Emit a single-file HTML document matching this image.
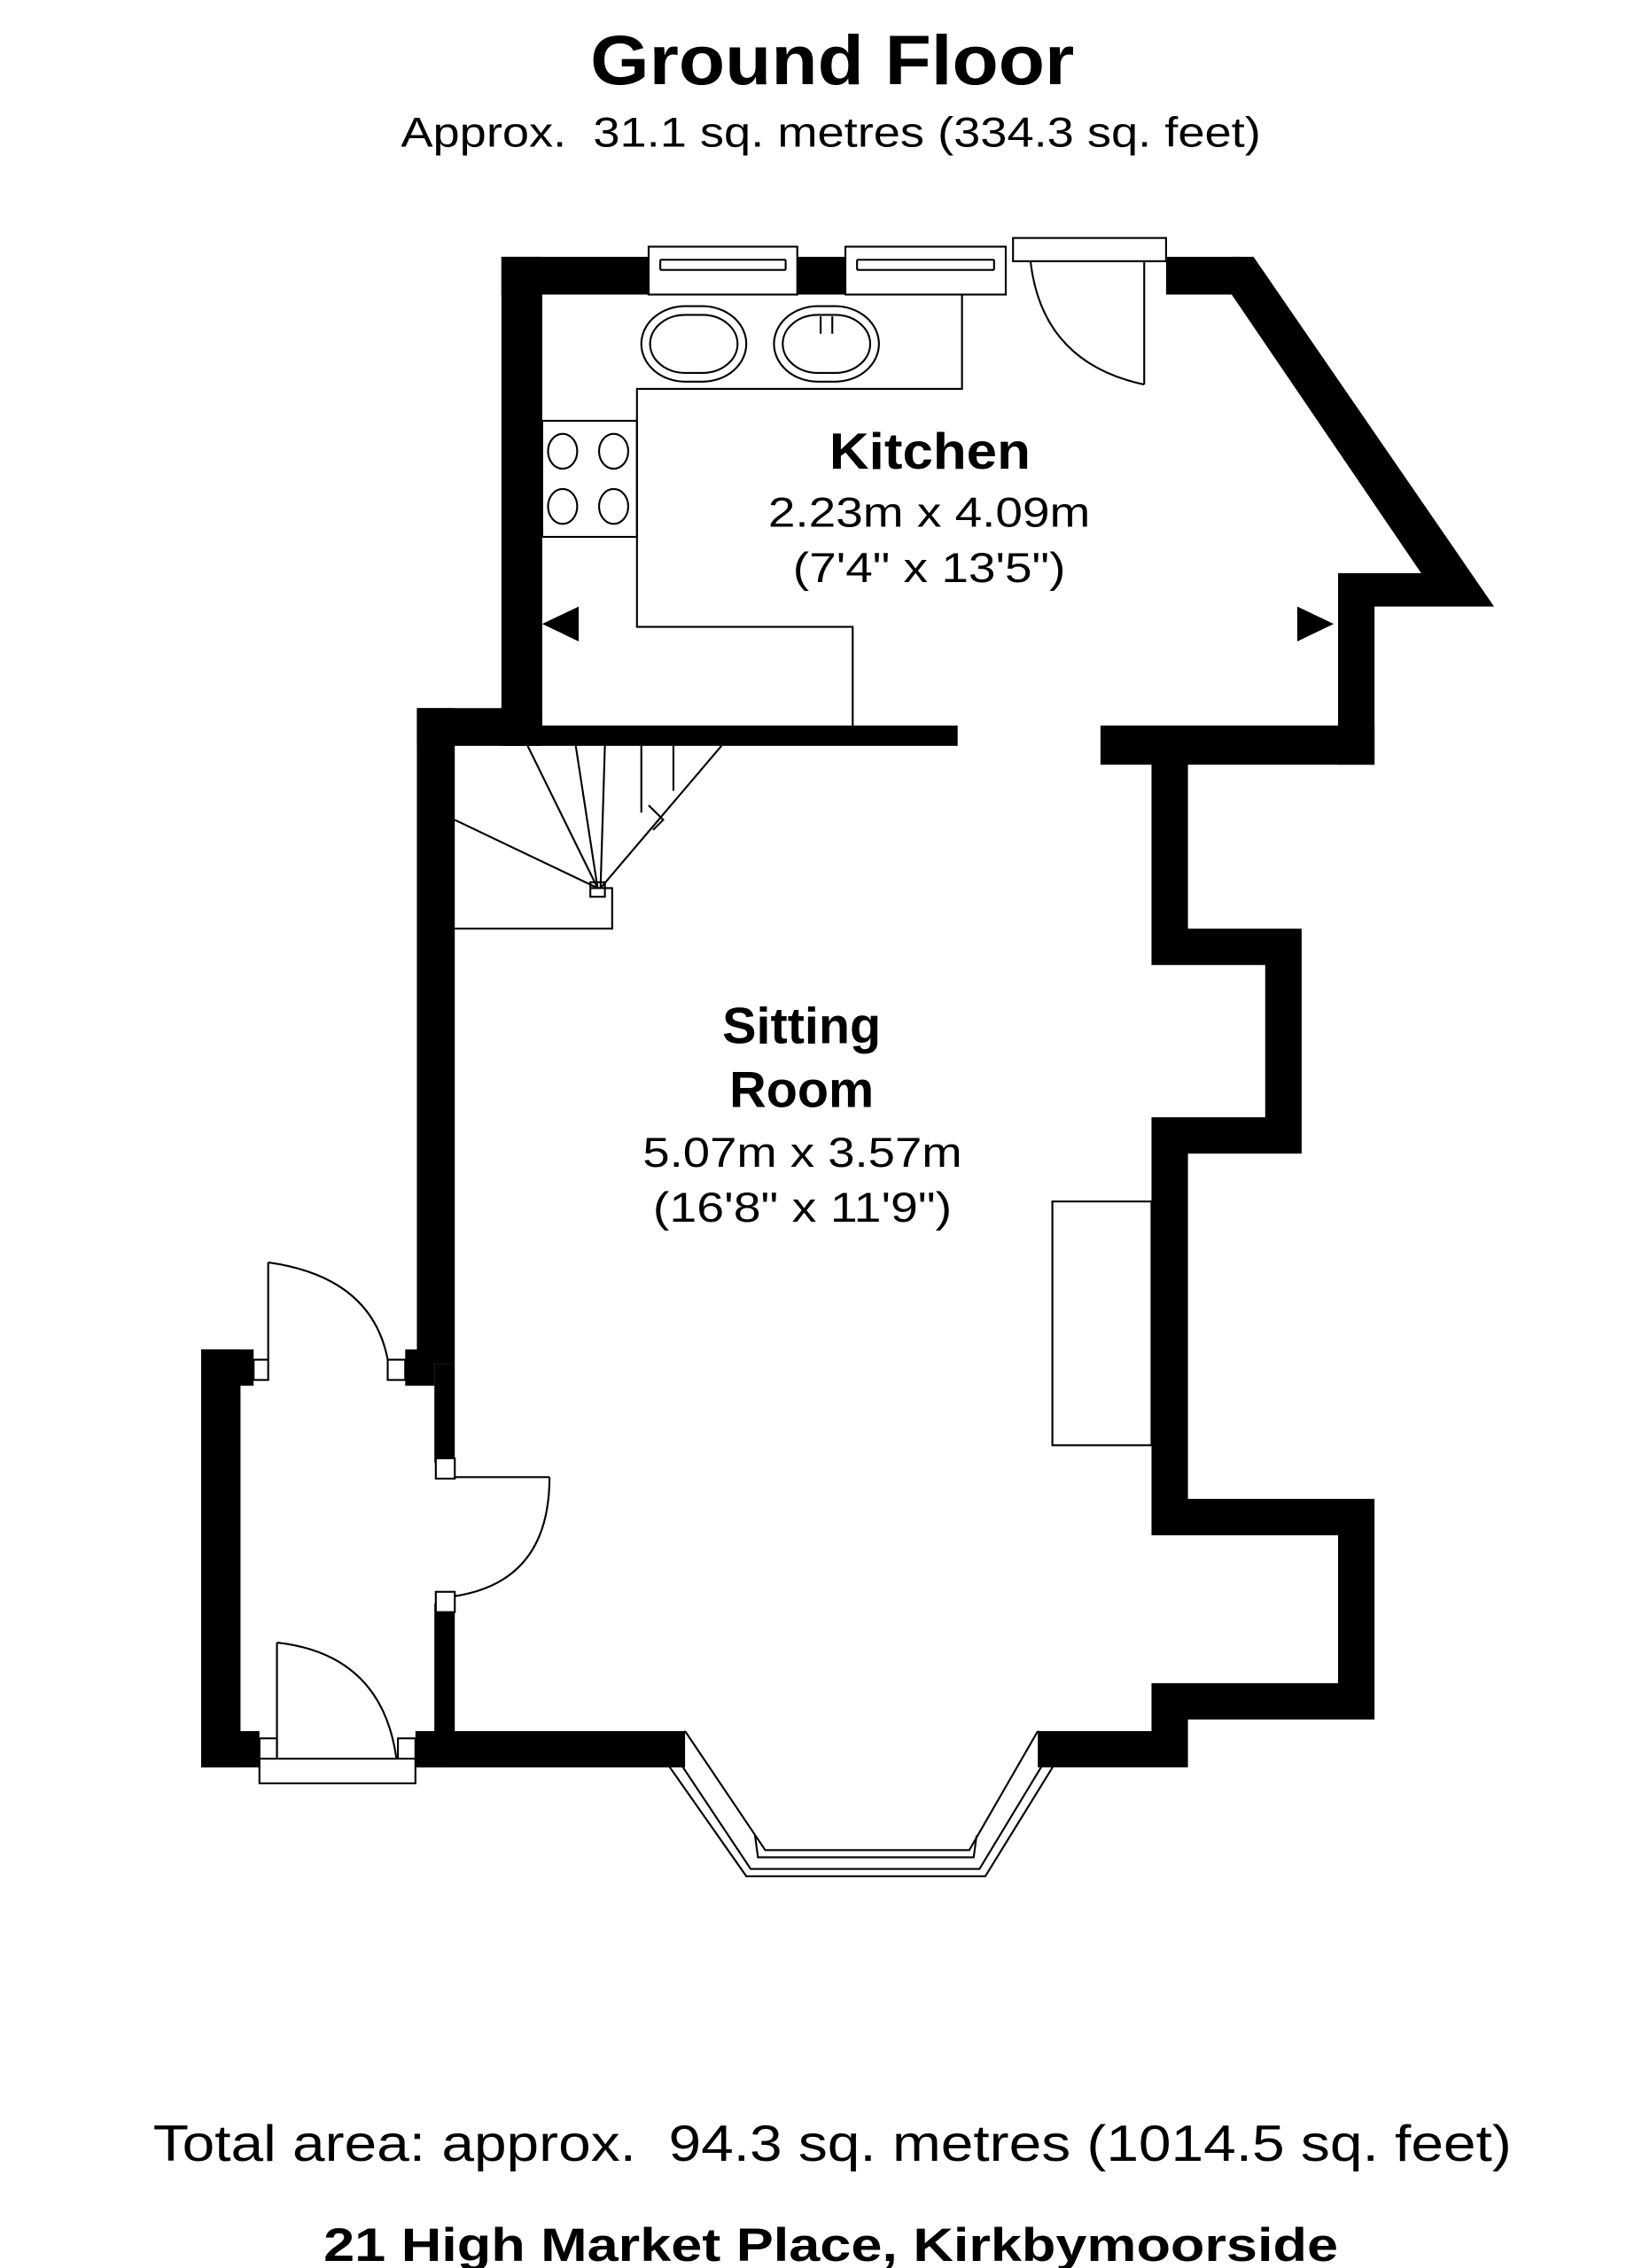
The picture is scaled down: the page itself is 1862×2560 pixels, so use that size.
<!DOCTYPE html>
<html><head><meta charset="utf-8"><style>
html,body{margin:0;padding:0;background:#fff;width:1862px;height:2560px;overflow:hidden}
svg{display:block}
text{font-family:"Liberation Sans",sans-serif;fill:#000}
</style></head><body>
<svg width="1862" height="2560" viewBox="0 0 1132 1563" preserveAspectRatio="none" xmlns="http://www.w3.org/2000/svg">
<text x="405" y="58" font-size="48" font-weight="bold" textLength="332" lengthAdjust="spacingAndGlyphs">Ground Floor</text>
<text x="275" y="101" font-size="29" textLength="590" lengthAdjust="spacingAndGlyphs">Approx.&#160; 31.1 sq. metres (334.3 sq. feet)</text>

<g fill="#000">
<rect x="344" y="177" width="28" height="337"/>
<rect x="286" y="488" width="86" height="26"/>
<rect x="286" y="488" width="26" height="452"/>
<rect x="344" y="177" width="101" height="26"/>
<rect x="547" y="177" width="33" height="26"/>
<rect x="800" y="177" width="50" height="26"/>
<polygon points="845,177 860,177 1025,418 943,418 943,527 918,527 918,395 975,395 845,203"/>
<rect x="372" y="500" width="285" height="14"/>
<rect x="755" y="500" width="188" height="27"/>
<polygon points="790,514 815,514 815,640 893,640 893,795 815,795 815,1033 943,1033 943,1185 815,1185 815,1218 712,1218 712,1193 790,1193 790,1160 918,1160 918,1058 790,1058 790,770 868,770 868,665 790,665"/>
<rect x="286" y="1193" width="184" height="25"/>
<rect x="298" y="940" width="14" height="68"/>
<rect x="298" y="1105" width="14" height="90"/>
<rect x="138" y="930" width="27" height="288"/>
<rect x="138" y="930" width="36" height="25"/>
<rect x="278" y="930" width="20" height="25"/>
<rect x="138" y="1193" width="40" height="25"/>
<rect x="285" y="1193" width="27" height="25"/>
<polygon points="372,430 397,418 397,442"/>
<polygon points="915,430 890,418 890,442"/>
</g>

<g fill="none" stroke="#000" stroke-width="1.3">
<rect x="445" y="170" width="102" height="33" fill="#fff"/>
<line x1="453" y1="179" x2="539" y2="179"/><line x1="453" y1="186" x2="539" y2="186"/>
<line x1="453" y1="179" x2="453" y2="186"/><line x1="539" y1="179" x2="539" y2="186"/>
<rect x="580" y="170" width="110" height="33" fill="#fff"/>
<line x1="588" y1="179" x2="682" y2="179"/><line x1="588" y1="186" x2="682" y2="186"/>
<line x1="588" y1="179" x2="588" y2="186"/><line x1="682" y1="179" x2="682" y2="186"/>
<rect x="695" y="164" width="105" height="16" fill="#fff"/>
<line x1="785" y1="180" x2="785" y2="265"/>
<path d="M707,180 Q715,250 785,265"/>
<polyline points="660,203 660,268 437,268 437,432 585,432 585,500"/>
<rect x="372" y="290" width="65" height="80"/>
<ellipse cx="386" cy="311" rx="10" ry="12"/><ellipse cx="421" cy="311" rx="10" ry="12"/>
<ellipse cx="386" cy="349" rx="10" ry="12"/><ellipse cx="421" cy="349" rx="10" ry="12"/>
<rect x="440" y="211" width="72" height="52" rx="30" ry="26"/><rect x="446" y="217" width="60" height="40" rx="24" ry="20"/>
<rect x="531" y="211" width="72" height="52" rx="30" ry="26"/><rect x="537" y="217" width="60" height="40" rx="24" ry="20"/>
<line x1="563" y1="218" x2="563" y2="230"/><line x1="571" y1="218" x2="571" y2="230"/>
<polyline points="312,640 420,640 420,612 405,612"/>
<line x1="312" y1="565" x2="410" y2="612"/>
<line x1="362" y1="514" x2="410" y2="612"/>
<line x1="395" y1="514" x2="410" y2="612"/>
<line x1="415" y1="514" x2="412" y2="612"/>
<line x1="440" y1="514" x2="440" y2="560"/>
<line x1="462" y1="514" x2="462" y2="545"/>
<line x1="495" y1="514" x2="412" y2="612"/>
<polyline points="445,555 455,565 448,572"/>
<rect x="405" y="608" width="10" height="10"/>
<rect x="722" y="828" width="68" height="168"/>
<rect x="174" y="937" width="10" height="14" fill="#fff"/>
<rect x="266" y="937" width="12" height="14" fill="#fff"/>
<line x1="184" y1="870" x2="184" y2="937"/>
<path d="M184,870 Q255,880 266,937"/>
<rect x="299" y="1005" width="13" height="14" fill="#fff"/>
<rect x="299" y="1097" width="13" height="14" fill="#fff"/>
<line x1="312" y1="1018" x2="377" y2="1018"/>
<path d="M377,1018 Q377,1090 312,1100"/>
<rect x="178" y="1198" width="12" height="14" fill="#fff"/>
<rect x="273" y="1198" width="12" height="14" fill="#fff"/>
<rect x="178" y="1212" width="107" height="17" fill="#fff"/>
<line x1="190" y1="1132" x2="190" y2="1212"/>
<path d="M190,1132 Q262,1140 272,1212"/>
<polyline points="470,1193 525,1275 665,1275 712,1193"/>
<polyline points="460,1205 515,1288 672,1288 722,1205"/>
<polyline points="454,1210 512,1293 676,1293 727,1210"/>
<line x1="470" y1="1193" x2="454" y2="1210"/>
<line x1="712" y1="1193" x2="727" y2="1210"/>
<polyline points="518,1265 520,1280 668,1280 670,1265"/>
</g>

<text x="569" y="323" font-size="35" font-weight="bold" textLength="138" lengthAdjust="spacingAndGlyphs">Kitchen</text>
<text x="527" y="363" font-size="29" textLength="221" lengthAdjust="spacingAndGlyphs">2.23m x 4.09m</text>
<text x="544" y="401" font-size="29" textLength="187" lengthAdjust="spacingAndGlyphs">(7'4" x 13'5")</text>
<text x="550" y="719" font-size="35" font-weight="bold" text-anchor="middle">Sitting</text>
<text x="550" y="763" font-size="35" font-weight="bold" text-anchor="middle">Room</text>
<text x="441" y="804" font-size="29" textLength="219" lengthAdjust="spacingAndGlyphs">5.07m x 3.57m</text>
<text x="448" y="842" font-size="29" textLength="205" lengthAdjust="spacingAndGlyphs">(16'8" x 11'9")</text>

<text x="105" y="1489" font-size="35" textLength="932" lengthAdjust="spacingAndGlyphs">Total area: approx.&#160; 94.3 sq. metres (1014.5 sq. feet)</text>
<text x="222" y="1558" font-size="32" font-weight="bold" textLength="696" lengthAdjust="spacingAndGlyphs">21 High Market Place, Kirkbymoorside</text>
</svg>
</body></html>
